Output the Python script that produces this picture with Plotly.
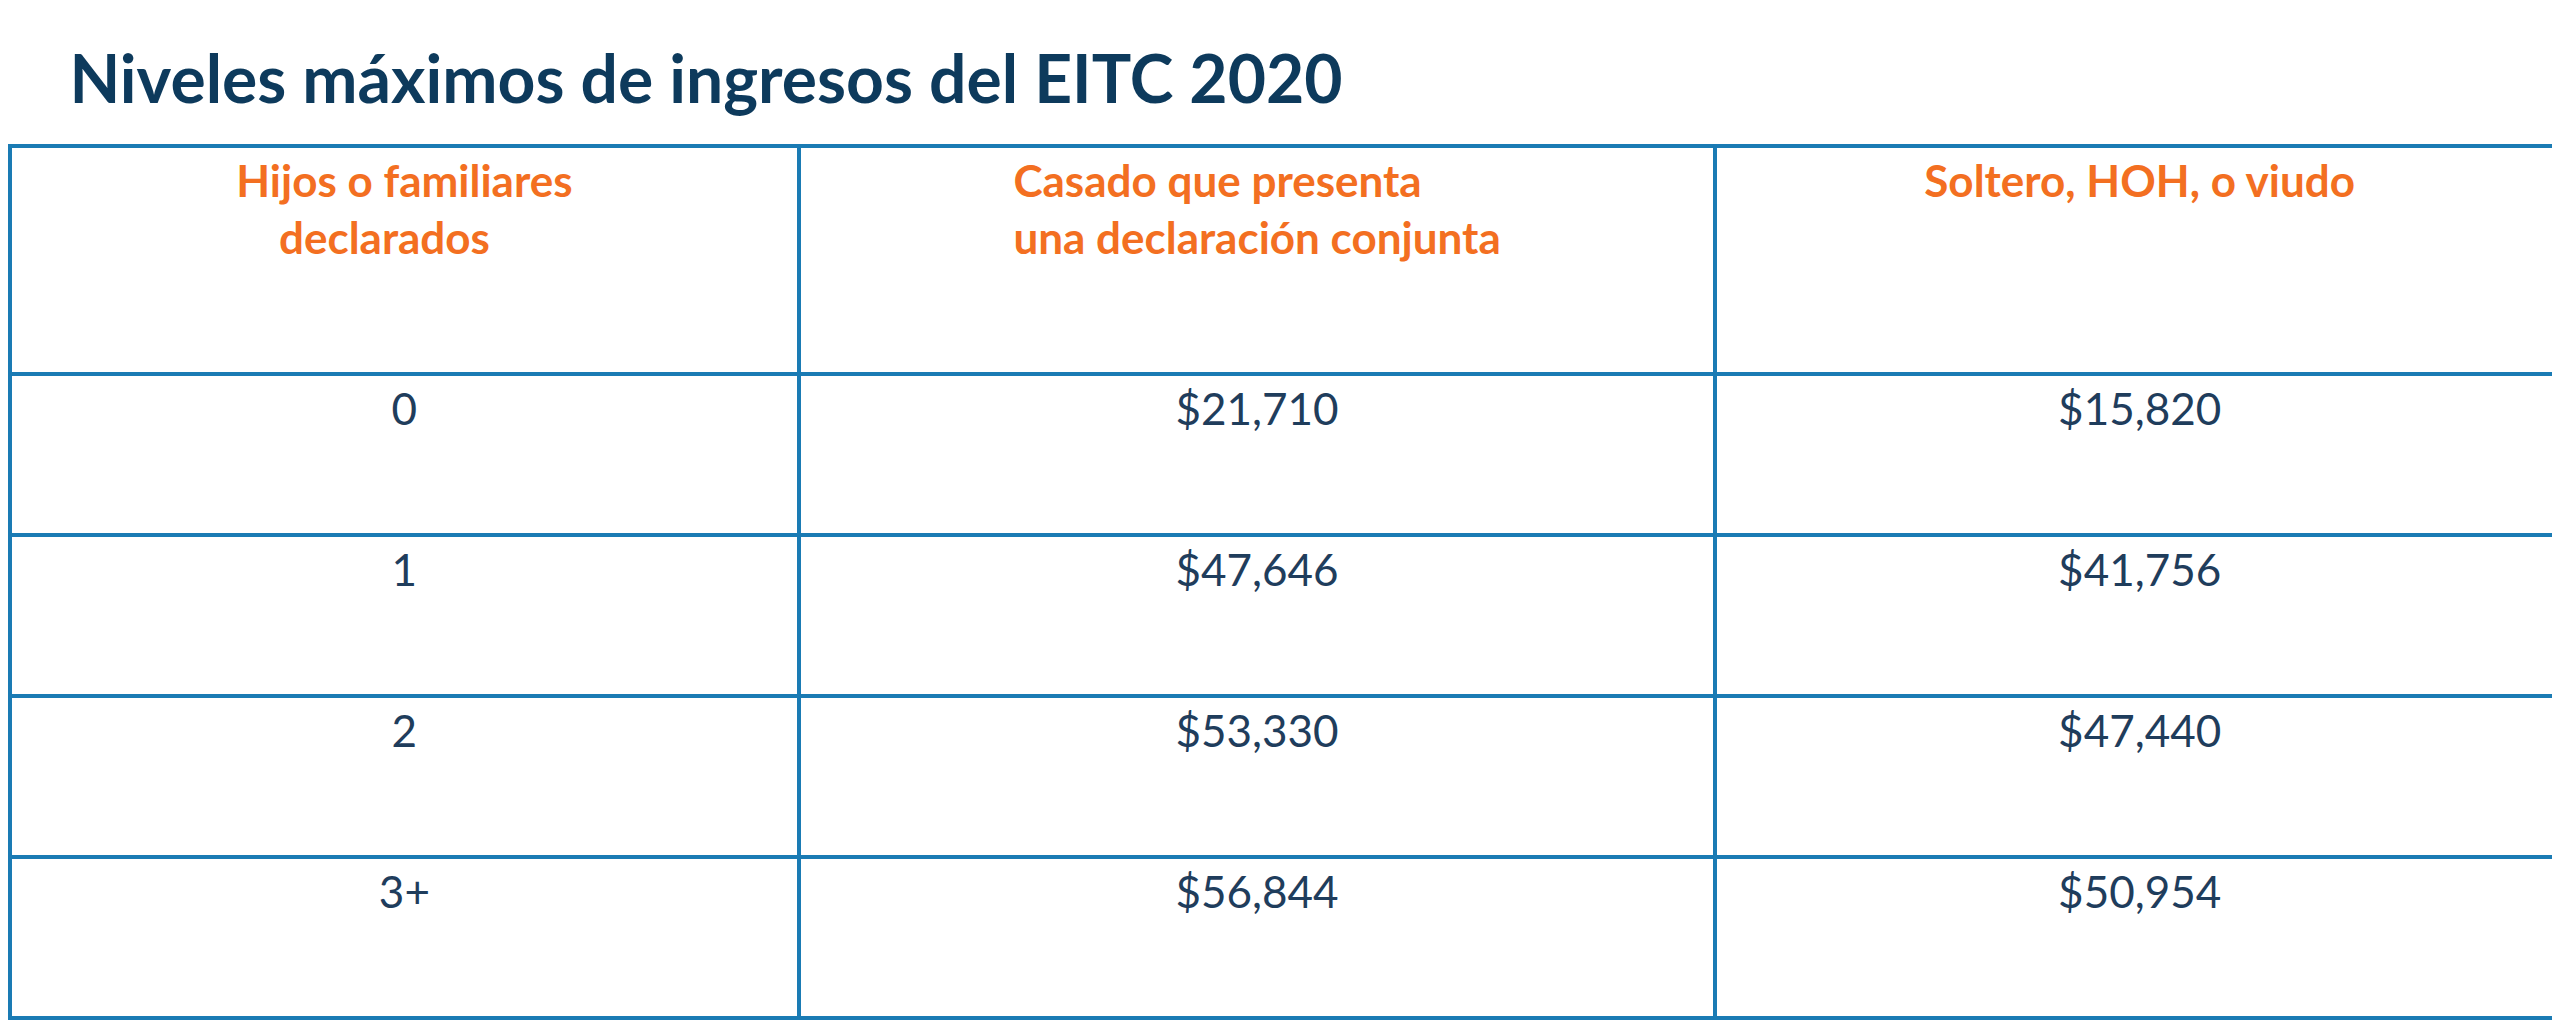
import plotly.graph_objects as go

headers = ["<br><b>Hijos o familiares</b><br><b>&nbsp;&nbsp;&nbsp;&nbsp;declarados</b>",
           "<br><b>Casado que presenta</b><br><b>una declaración conjunta</b>",
           "<br><br><b>Soltero, HOH, o viudo</b>"]
children = ["0", "1", "2", "3+"]
married = ["$21,710", "$47,646", "$53,330", "$56,844"]
single = ["$15,820", "$41,756", "$47,440", "$50,954"]

line_c = "#1a7bb4"
fig = go.Figure(go.Table(
    columnwidth=[790, 918, 850],
    header=dict(values=headers, height=228, align="center",
                fill_color="white", line=dict(color=line_c, width=4),
                font=dict(family="Lato", size=44, color="#f36f21")),
    cells=dict(values=[["<br>" + v for v in children], ["<br>" + v for v in married],
                       ["<br>" + v for v in single]], height=161, align="center",
               fill_color="white", line=dict(color=line_c, width=4),
               font=dict(family="Lato", size=44, color="#1f3d5c")),
))
fig.update_layout(
    width=2560, height=1024, paper_bgcolor="white",
    margin=dict(l=2, r=4, t=138, b=2),
    title=dict(text="<b>Niveles máximos de ingresos del EITC 2020</b>", x=0.024, xanchor="left",
               y=0.93, yanchor="middle", font=dict(family="Lato", size=66, color="#0d3a5c")),
)
fig.write_html("out.html")
